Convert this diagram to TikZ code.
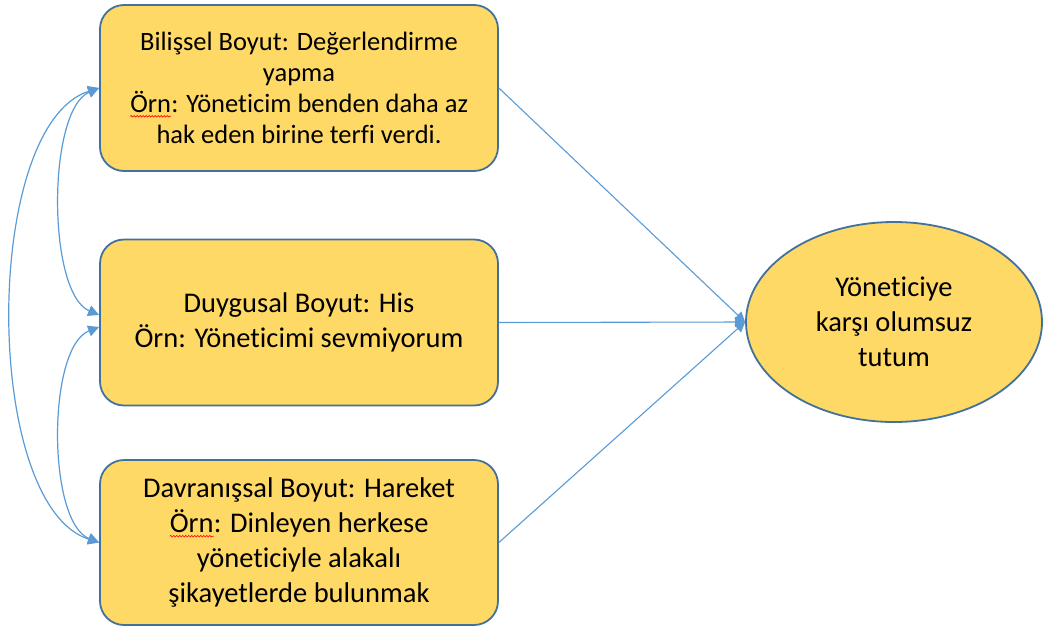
\documentclass[tikz,border=0pt]{standalone}
\usepackage{fontspec}
\setmainfont{Carlito}[Ligatures=NoCommon]
\usetikzlibrary{arrows.meta,decorations.pathmorphing,shapes.geometric}

\definecolor{boxfill}{HTML}{FFD966}
\definecolor{boxline}{HTML}{41719C}
\definecolor{linkblue}{HTML}{5B9BD5}

% red wavy spelling mark under a word
\newcommand\spellmark[1]{\tikz[baseline=(sw.base)]{%
  \node[inner sep=0pt,outer sep=0pt,draw=none,fill=none,shape=rectangle,
        minimum width=0pt,minimum height=0pt,sharp corners](sw){#1};%
  \draw[red,line width=0.6pt,sharp corners,decorate,
        decoration={snake,amplitude=0.8pt,segment length=3pt}]
    ([yshift=-3.5pt]sw.south west) -- ([yshift=-3.5pt]sw.south east);}}

\tikzset{
  dimbox/.style={draw=boxline,fill=boxfill,line width=1.8pt,rounded corners=24pt,
    minimum width=398pt,minimum height=166pt,align=center,
    font=\fontsize{28.5}{35}\selectfont},
  attbox/.style={ellipse,draw=boxline,fill=boxfill,line width=1.8pt,
    minimum width=296pt,minimum height=200pt,align=center,inner sep=0pt,
    font=\fontsize{28.5}{35}\selectfont},
  link/.style={draw=linkblue,line width=1.1pt,-{Triangle[length=10pt,width=10pt]}},
  bilink/.style={draw=linkblue,line width=1.2pt,
    {Triangle[length=11pt,width=11pt]}-{Triangle[length=11pt,width=11pt]}}
}

\begin{document}
\begin{tikzpicture}[x=1pt,y=-1pt]
  \useasboundingbox[fill=white] (0,0) rectangle (1043,627);

  \node[dimbox,font=\fontsize{26.5}{31}\selectfont] (bil) at (299,88)
    {Bilişsel Boyut: Değerlendirme\\yapma\\
    \spellmark{Örn}: Yöneticim benden daha az\\hak eden birine terfi verdi.};
  \node[dimbox] (duy) at (299,322.5) {Duygusal Boyut: His\\Örn: Yöneticimi sevmiyorum};
  \node[dimbox,minimum height=165pt] (dav) at (299,542.5) {Davranışsal Boyut: Hareket\\
    \spellmark{Örn}: Dinleyen herkese\\yöneticiyle alakalı\\şikayetlerde bulunmak};

  \node[attbox] (tut) at (894,322) {Yöneticiye\\karşı olumsuz\\tutum};

  % paths from each dimension to the attitude
  \draw[link] (bil.east) -- (tut.west);
  \draw[link] (duy.east) -- (tut.west);
  \draw[link] (dav.east) -- (tut.west);

  % correlations between the dimensions
  \draw[bilink] (bil.west) .. controls (47,110) and (47,293) .. ([yshift=7.5pt]duy.west);
  \draw[bilink] ([yshift=-4.5pt]duy.west) .. controls (47,347) and (47,522) .. (dav.west);
  \draw[bilink] (bil.west) .. controls (-18,125) and (-18,505) .. (dav.west);
\end{tikzpicture}
\end{document}
